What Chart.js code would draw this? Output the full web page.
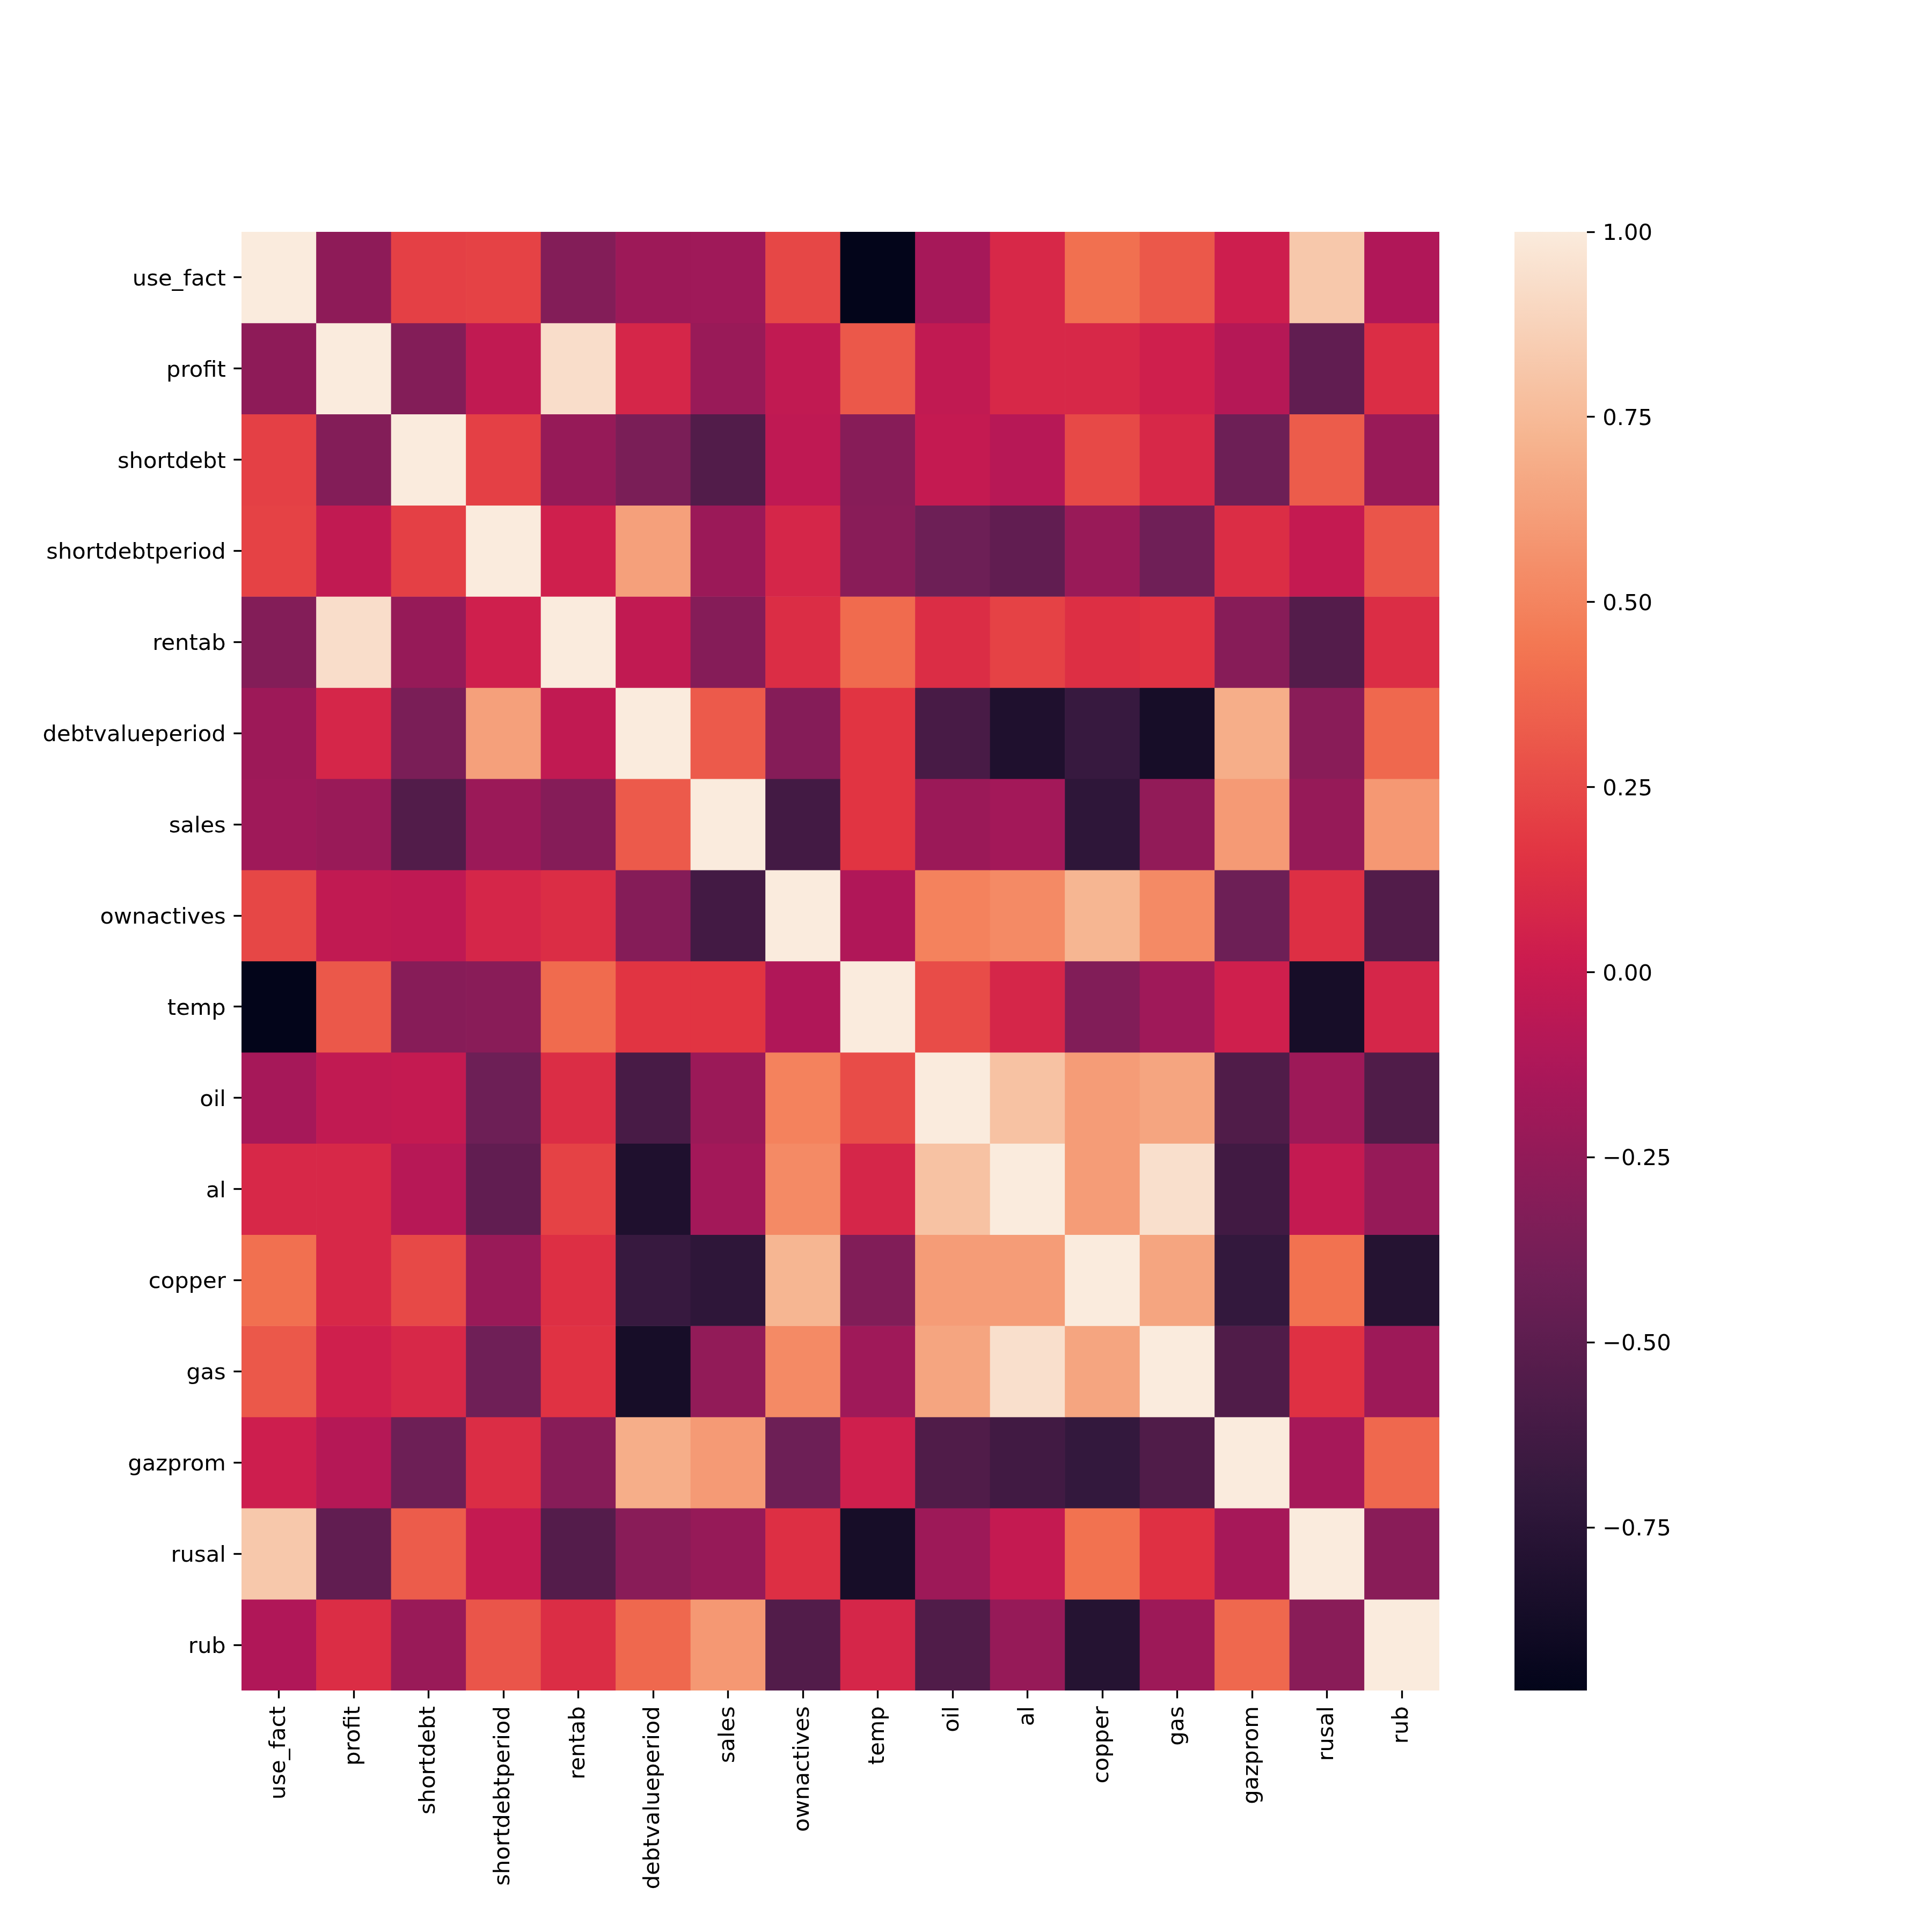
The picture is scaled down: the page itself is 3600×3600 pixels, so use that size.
<!DOCTYPE html>
<html>
<head>
<meta charset="utf-8">
<script src="https://cdn.jsdelivr.net/npm/chart.js@4.4.1/dist/chart.umd.min.js"></script>
<style>
  html, body { margin: 0; padding: 0; background: #ffffff; }
  body { width: 3600px; height: 3600px; position: relative; overflow: hidden; }
  #heatWrap { position: absolute; left: 0; top: 0; width: 2682px; height: 3600px; }
  #barWrap { position: absolute; left: 2822px; top: 0; width: 778px; height: 3600px; }
</style>
</head>
<body>
<div id="heatWrap"><canvas id="heat"></canvas></div>
<div id="barWrap"><canvas id="cbar"></canvas></div>
<script>
// ---- data ----
const labels = ['use_fact','profit','shortdebt','shortdebtperiod','rentab','debtvalueperiod','sales','ownactives','temp','oil','al','copper','gas','gazprom','rusal','rub'];

const row_use_fact        = [ 1.00,-0.27, 0.21, 0.22,-0.32,-0.20,-0.19, 0.24,-0.97,-0.16, 0.09, 0.41, 0.31, 0.03, 0.82,-0.11];
const row_profit          = [-0.27, 1.00,-0.32,-0.03, 0.93, 0.08,-0.22,-0.03, 0.31,-0.03, 0.09, 0.09, 0.04,-0.09,-0.48, 0.12];
const row_shortdebt       = [ 0.21,-0.32, 1.00, 0.21,-0.23,-0.36,-0.55,-0.04,-0.30,-0.02,-0.08, 0.25, 0.09,-0.42, 0.33,-0.22];
const row_shortdebtperiod = [ 0.22,-0.03, 0.21, 1.00, 0.04, 0.63,-0.21, 0.08,-0.29,-0.42,-0.48,-0.22,-0.41, 0.12,-0.02, 0.30];
const row_rentab          = [-0.32, 0.93,-0.23, 0.04, 1.00,-0.03,-0.31, 0.12, 0.39, 0.12, 0.22, 0.13, 0.15,-0.30,-0.54, 0.12];
const row_debtvalueperiod = [-0.20, 0.08,-0.36, 0.63,-0.03, 1.00, 0.32,-0.31, 0.16,-0.60,-0.81,-0.68,-0.86, 0.69,-0.29, 0.38];
const row_sales           = [-0.19,-0.22,-0.55,-0.21,-0.31, 0.32, 1.00,-0.62, 0.16,-0.21,-0.17,-0.73,-0.25, 0.60,-0.23, 0.59];
const row_ownactives      = [ 0.24,-0.03,-0.04, 0.08, 0.12,-0.31,-0.62, 1.00,-0.11, 0.49, 0.53, 0.73, 0.53,-0.42, 0.13,-0.55];
const row_temp            = [-0.97, 0.31,-0.30,-0.29, 0.39, 0.16, 0.16,-0.11, 1.00, 0.26, 0.08,-0.33,-0.19, 0.04,-0.86, 0.08];
const row_oil             = [-0.16,-0.03,-0.02,-0.42, 0.12,-0.60,-0.21, 0.49, 0.26, 1.00, 0.79, 0.61, 0.65,-0.56,-0.20,-0.56];
const row_al              = [ 0.09, 0.09,-0.08,-0.48, 0.22,-0.81,-0.17, 0.53, 0.08, 0.79, 1.00, 0.61, 0.94,-0.63,-0.02,-0.23];
const row_copper          = [ 0.41, 0.09, 0.25,-0.22, 0.13,-0.68,-0.73, 0.73,-0.33, 0.61, 0.61, 1.00, 0.65,-0.70, 0.42,-0.78];
const row_gas             = [ 0.31, 0.04, 0.09,-0.41, 0.15,-0.86,-0.25, 0.53,-0.19, 0.65, 0.94, 0.65, 1.00,-0.56, 0.14,-0.20];
const row_gazprom         = [ 0.03,-0.09,-0.42, 0.12,-0.30, 0.69, 0.60,-0.42, 0.04,-0.56,-0.63,-0.70,-0.56, 1.00,-0.16, 0.38];
const row_rusal           = [ 0.82,-0.48, 0.33,-0.02,-0.54,-0.29,-0.23, 0.13,-0.86,-0.20,-0.02, 0.42, 0.14,-0.16, 1.00,-0.29];
const row_rub             = [-0.11, 0.12,-0.22, 0.30, 0.12, 0.38, 0.59,-0.55, 0.08,-0.56,-0.23,-0.78,-0.20, 0.38,-0.29, 1.00];

const matrix = [row_use_fact,row_profit,row_shortdebt,row_shortdebtperiod,row_rentab,row_debtvalueperiod,row_sales,row_ownactives,row_temp,row_oil,row_al,row_copper,row_gas,row_gazprom,row_rusal,row_rub];

const colorbarTicks = [-0.75,-0.50,-0.25,0.00,0.25,0.50,0.75,1.00];

// ---- colormap (seaborn "rocket" approximation) ----
const rocketStops = [
  [0, [3,5,26]],
  [1/7, [53,25,62]],
  [2/7, [112,31,87]],
  [3/7, [173,23,89]],
  [0.5, [203,27,79]],
  [4/7, [225,51,66]],
  [5/7, [243,118,81]],
  [6/7, [246,180,143]],
  [1, [250,235,221]]
];
function rocket(t) {
  t = Math.max(0, Math.min(1, t));
  for (let i = 1; i < rocketStops.length; i++) {
    const [t1, c1] = rocketStops[i];
    const [t0, c0] = rocketStops[i-1];
    if (t <= t1) {
      const f = (t - t0) / (t1 - t0);
      const c = c0.map((v, k) => Math.round(v + (c1[k] - v) * f));
      return `rgb(${c[0]},${c[1]},${c[2]})`;
    }
  }
  const c = rocketStops[rocketStops.length-1][1];
  return `rgb(${c[0]},${c[1]},${c[2]})`;
}
const vmin = Math.min(...matrix.flat());
const vmax = Math.max(...matrix.flat());
const colorFor = v => rocket((v - vmin) / (vmax - vmin));

// ---- common style ----
const FONT = { family: 'DejaVu Sans', size: 41.67 };
const TICK_LEN = 14.6;
const TICK_W = 3.33;

// ---- heatmap ----
const datasets = matrix.map((row, i) => ({
  label: labels[i],
  data: row.map(() => [i, i + 1]),
  backgroundColor: row.map(v => colorFor(v)),
  borderWidth: 0,
  barPercentage: 1,
  categoryPercentage: 1,
  grouped: false
}));

new Chart(document.getElementById('heat'), {
  type: 'bar',
  data: { labels: labels, datasets: datasets },
  options: {
    responsive: true,
    maintainAspectRatio: false,
    devicePixelRatio: 1,
    animation: false,
    layout: { padding: { left: 0, top: 432, right: 0, bottom: 0 } },
    plugins: { legend: { display: false }, tooltip: { enabled: false } },
    scales: {
      x: {
        type: 'category',
        offset: true,
        afterFit: s => { s.height = 450; },
        border: { display: false },
        grid: { offset: false, drawOnChartArea: false, drawTicks: true, tickLength: TICK_LEN, tickWidth: TICK_W, tickColor: '#000' },
        ticks: { autoSkip: false, minRotation: 90, maxRotation: 90, padding: 14.6, color: '#000', font: FONT }
      },
      y: {
        type: 'linear',
        reverse: true,
        min: 0,
        max: labels.length,
        afterFit: s => { s.width = 450; },
        afterBuildTicks: s => { s.ticks = labels.map((_, i) => ({ value: i + 0.5 })); },
        border: { display: false },
        grid: { drawOnChartArea: false, drawTicks: true, tickLength: TICK_LEN, tickWidth: TICK_W, tickColor: '#000' },
        ticks: { autoSkip: false, padding: 14.6, labelOffset: 4, color: '#000', font: FONT,
                 callback: v => labels[Math.floor(v)] }
      }
    }
  }
});

// ---- colorbar ----
function gradientFill(context) {
  const chart = context.chart;
  const area = chart.chartArea;
  if (!area) return colorFor(vmax);
  const y = chart.scales.y;
  const g = chart.ctx.createLinearGradient(0, y.getPixelForValue(vmin), 0, y.getPixelForValue(vmax));
  const N = 64;
  for (let k = 0; k <= N; k++) g.addColorStop(k / N, rocket(k / N));
  return g;
}

new Chart(document.getElementById('cbar'), {
  type: 'bar',
  data: { labels: [''], datasets: [{ data: [[vmin, vmax]], backgroundColor: gradientFill, borderWidth: 0, barPercentage: 1, categoryPercentage: 1 }] },
  options: {
    responsive: true,
    maintainAspectRatio: false,
    devicePixelRatio: 1,
    animation: false,
    layout: { padding: { left: 0, top: 432, right: 0, bottom: 450 } },
    plugins: { legend: { display: false }, tooltip: { enabled: false } },
    scales: {
      x: { display: false },
      y: {
        type: 'linear',
        position: 'right',
        min: vmin,
        max: vmax,
        afterFit: s => { s.width = 778 - 135; },
        afterBuildTicks: s => { s.ticks = colorbarTicks.map(v => ({ value: v })); },
        border: { display: false },
        grid: { drawOnChartArea: false, drawTicks: true, tickLength: TICK_LEN, tickWidth: TICK_W, tickColor: '#000' },
        ticks: { padding: 14.6, labelOffset: 4, color: '#000', font: FONT,
                 callback: v => v.toFixed(2).replace('-', '\u2212') }
      }
    }
  }
});
</script>
</body>
</html>
